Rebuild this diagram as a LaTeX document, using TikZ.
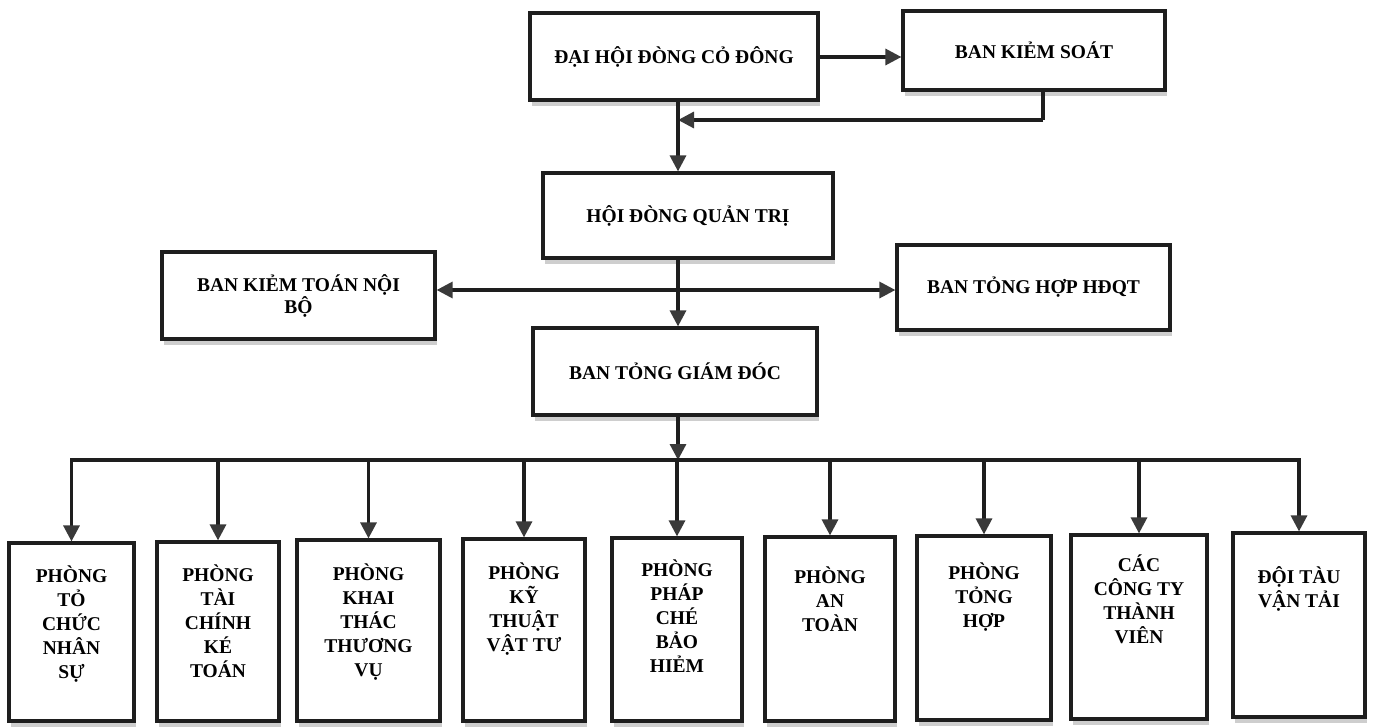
\documentclass[tikz,border=0pt]{standalone}
\usepackage{fontspec}
\setmainfont{Liberation Serif}
\usetikzlibrary{arrows.meta,shadows,calc}
\definecolor{linec}{HTML}{1E1E1E}
\definecolor{headc}{HTML}{3A3A3A}
\begin{document}
\begin{tikzpicture}[x=1pt,y=-1pt,
  txt/.style={font=\bfseries\fontsize{19.5}{24}\selectfont, align=center},
  box/.style={txt, draw=linec, line width=3.2pt, fill=white, inner sep=0pt,
    drop shadow={shadow xshift=2pt,shadow yshift=-6pt,fill=black!35,opacity=0.55}},
  conn/.style={draw=linec, line width=3.2pt},
  arr/.style={conn, -{Triangle[length=16pt,width=16pt,color=headc]}},
  lbl/.style={txt, anchor=north, inner sep=0pt}
]
\useasboundingbox (0,0) rectangle (1373,726);

% upper boxes
\node[box, minimum width=288pt, minimum height=87pt] (A) at (674,56.5) {ĐẠI HỘI ĐÒNG CỎ ĐÔNG};
\node[box, minimum width=262pt, minimum height=79pt] (B) at (1034,50.5) {BAN KIẺM SOÁT};
\node[box, minimum width=290pt, minimum height=85pt] (C) at (688,215.5) {HỘI ĐÒNG QUẢN TRỊ};
\node[box, minimum width=284pt, minimum height=87pt] (D) at (675,371.5) {BAN TỎNG GIÁM ĐÓC};
\node[box, minimum width=273pt, minimum height=87pt] (E) at (298.5,295.5) {BAN KIẺM TOÁN NỘI\\[-2pt]BỘ};
\node[box, minimum width=273pt, minimum height=85pt] (F) at (1033.5,287.5) {BAN TỎNG HỢP HĐQT};

% lower boxes
\node[box, minimum width=125pt, minimum height=178pt] (P1) at (71.5,632) {};
\node[box, minimum width=122pt, minimum height=179pt] (P2) at (218,631.5) {};
\node[box, minimum width=143pt, minimum height=181pt] (P3) at (368.5,630.5) {};
\node[box, minimum width=122pt, minimum height=182pt] (P4) at (524,630) {};
\node[box, minimum width=130pt, minimum height=183pt] (P5) at (677,629.5) {};
\node[box, minimum width=130pt, minimum height=184pt] (P6) at (830,629) {};
\node[box, minimum width=134pt, minimum height=184pt] (P7) at (984,628) {};
\node[box, minimum width=136pt, minimum height=184pt] (P8) at (1139,627) {};
\node[box, minimum width=132pt, minimum height=184pt] (P9) at (1299,625) {};

\node[lbl] (T1) at ($(P1.north)+(0,24)$) {PHÒNG\\TỎ\\CHỨC\\NHÂN\\SỰ};
\node[lbl] (T2) at ($(P2.north)+(0,24)$) {PHÒNG\\TÀI\\CHÍNH\\KÉ\\TOÁN};
\node[lbl] (T3) at ($(P3.north)+(0,25)$) {PHÒNG\\KHAI\\THÁC\\THƯƠNG\\VỤ};
\node[lbl] (T4) at ($(P4.north)+(0,25)$) {PHÒNG\\KỸ\\THUẬT\\VẬT TƯ};
\node[lbl] (T5) at ($(P5.north)+(0,23)$) {PHÒNG\\PHÁP\\CHÉ\\BẢO\\HIẺM};
\node[lbl] (T6) at ($(P6.north)+(0,31)$) {PHÒNG\\AN\\TOÀN};
\node[lbl] (T7) at ($(P7.north)+(0,28)$) {PHÒNG\\TỎNG\\HỢP};
\node[lbl] (T8) at ($(P8.north)+(0,21)$) {CÁC\\CÔNG TY\\THÀNH\\VIÊN};
\node[lbl] (T9) at ($(P9.north)+(0,35)$) {ĐỘI TÀU\\VẬN TẢI};

% coordinates of the trunk
\coordinate (ret) at (678,120);
\coordinate (hub) at (678,290);
\coordinate (bus) at (678,460);

% connectors
\draw[arr] (A.east |- 0,57) -- (B.west |- 0,57);
\draw[conn] (1043,90) coordinate (bdrop) -- (bdrop |- ret);
\draw[arr] (bdrop |- ret) -- (ret);
\draw[arr] (A.south -| ret) -- (C.north -| ret);
\draw[conn] (C.south -| hub) -- (hub);
\draw[arr] (hub) -- (D.north -| hub);
\draw[arr] (hub) -- (E.east |- hub);
\draw[arr] (hub) -- (F.west |- hub);
\draw[arr] (D.south -| bus) -- (bus);
\draw[conn, line cap=rect] (P1.north |- bus) -- (P9.north |- bus);
\foreach \i in {1,...,9}{
  \draw[arr] (P\i.north |- bus) -- (P\i.north);
}
\end{tikzpicture}
\end{document}
